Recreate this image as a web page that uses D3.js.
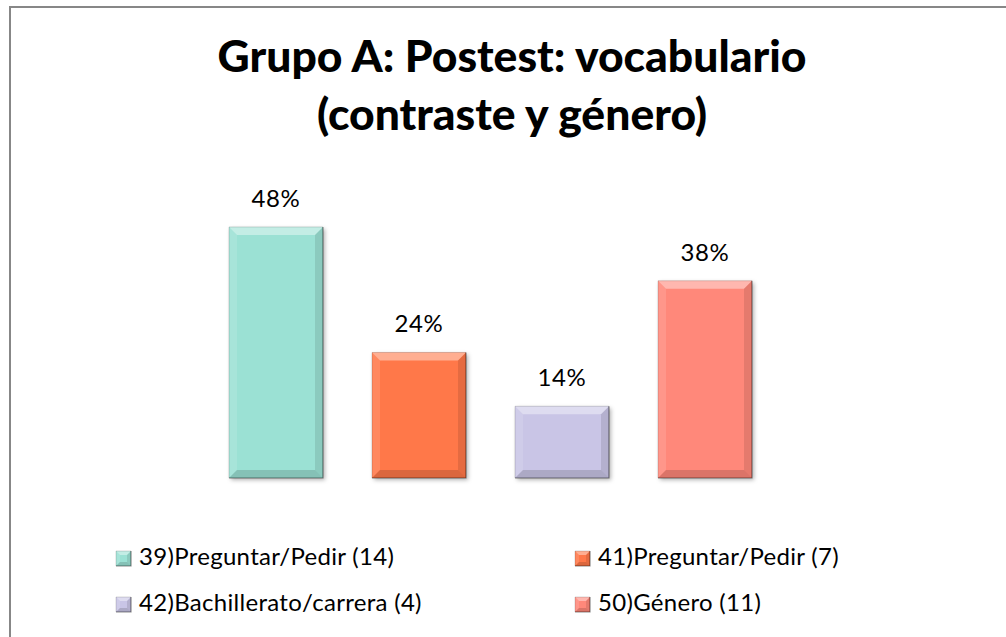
<!DOCTYPE html>
<html>
<head>
<meta charset="utf-8">
<script src="https://cdn.jsdelivr.net/npm/d3@7"></script>
<style>
  html, body { margin: 0; padding: 0; background: #fff; }
  svg { display: block; }
</style>
</head>
<body>
<script>
// ---- data ----
const titleLines = ["Grupo A: Postest: vocabulario", "(contraste y género)"];
const categories = ["39)Preguntar/Pedir (14)", "41)Preguntar/Pedir (7)", "42)Bachillerato/carrera (4)", "50)Género (11)"];
const values = [48.28, 24.14, 13.79, 37.93];
const valueLabels = ["48%", "24%", "14%", "38%"];
const colors = ["#9BE1D4", "#FF7849", "#C9C5E6", "#FF887A"];

// ---- layout ----
const W = 1006, H = 637;
const svg = d3.select("body").append("svg").attr("width", W).attr("height", H);
const FONT = "Lato, 'Open Sans', 'DejaVu Sans', sans-serif";

const defs = svg.append("defs");
const f = defs.append("filter").attr("id", "shadow").attr("x", "-20%").attr("y", "-20%").attr("width", "140%").attr("height", "140%");
f.append("feDropShadow").attr("dx", 2).attr("dy", 2).attr("stdDeviation", 2).attr("flood-color", "#000").attr("flood-opacity", 0.3);

// chart border (extends beyond window on right/bottom)
svg.append("rect").attr("x", 10).attr("y", 7).attr("width", W + 20).attr("height", H + 20)
  .attr("fill", "#fff").attr("stroke", "#878787").attr("stroke-width", 2);

// title
const title = svg.append("g");
const tl = title.selectAll("text").data(titleLines).join("text")
  .attr("x", 512).attr("y", (d, i) => 72 + i * 58)
  .attr("text-anchor", "middle")
  .attr("font-family", FONT).attr("font-weight", 900).attr("font-size", 46)
  .attr("fill", "#000").text(d => d);
// fit first line to reference width
const w0 = tl.nodes()[0].getComputedTextLength();
const fs = 46 * 589 / w0;
tl.attr("font-size", fs);

// scales
const x = d3.scaleBand().domain(categories).range([204.5, 776.5]).paddingInner(0.343).paddingOuter(0.1715);
const y = d3.scaleLinear().domain([0, 60]).range([478, 166]);

const bars = svg.append("g");
function bevel(g, x0, y0, w, h, b, color) {
  g.append("rect").attr("x", x0).attr("y", y0).attr("width", w).attr("height", h)
    .attr("fill", color).attr("filter", "url(#shadow)");
  const pts = {
    top: [[x0, y0], [x0 + w, y0], [x0 + w - b, y0 + b], [x0 + b, y0 + b]],
    left: [[x0, y0], [x0 + b, y0 + b], [x0 + b, y0 + h - b], [x0, y0 + h]],
    right: [[x0 + w, y0], [x0 + w, y0 + h], [x0 + w - b, y0 + h - b], [x0 + w - b, y0 + b]],
    bottom: [[x0, y0 + h], [x0 + b, y0 + h - b], [x0 + w - b, y0 + h - b], [x0 + w, y0 + h]]
  };
  const style = { top: ["#fff", 0.4], left: ["#fff", 0.12], right: ["#000", 0.10], bottom: ["#000", 0.14] };
  Object.keys(pts).forEach(k => {
    g.append("polygon").attr("points", pts[k].map(p => p.join(",")).join(" "))
      .attr("fill", style[k][0]).attr("fill-opacity", style[k][1]);
  });
  g.append("path")
    .attr("d", `M${x0 + w},${y0} L${x0 + w},${y0 + h} L${x0},${y0 + h}`)
    .attr("fill", "none").attr("stroke", "#000").attr("stroke-opacity", 0.45).attr("stroke-width", 1.2);
  g.append("path")
    .attr("d", `M${x0},${y0 + h} L${x0},${y0} L${x0 + w},${y0}`)
    .attr("fill", "none").attr("stroke", "#000").attr("stroke-opacity", 0.15).attr("stroke-width", 1);
}

categories.forEach((c, i) => {
  const g = bars.append("g");
  const bx = x(c), bw = x.bandwidth(), by = y(values[i]), bh = y(0) - y(values[i]);
  bevel(g, bx, by, bw, bh, 8, colors[i]);
  g.append("text").attr("x", bx + bw / 2).attr("y", by - 20)
    .attr("text-anchor", "middle").attr("font-family", FONT).attr("font-size", 24)
    .attr("letter-spacing", 0.6)
    .attr("fill", "#000").text(valueLabels[i]);
});

// legend
const legendPos = [[116, 551], [575, 551], [116, 597], [575, 597]];
const legend = svg.append("g");
categories.forEach((c, i) => {
  const [lx, ly] = legendPos[i];
  const g = legend.append("g");
  bevel(g, lx, ly, 15, 15, 4, colors[i]);
  g.select("rect").attr("filter", null);
  g.append("text").attr("x", lx + 23).attr("y", ly + 13.5)
    .attr("font-family", FONT).attr("font-size", 24).attr("letter-spacing", 0.3)
    .attr("fill", "#000").text(c);
});
</script>
</body>
</html>
